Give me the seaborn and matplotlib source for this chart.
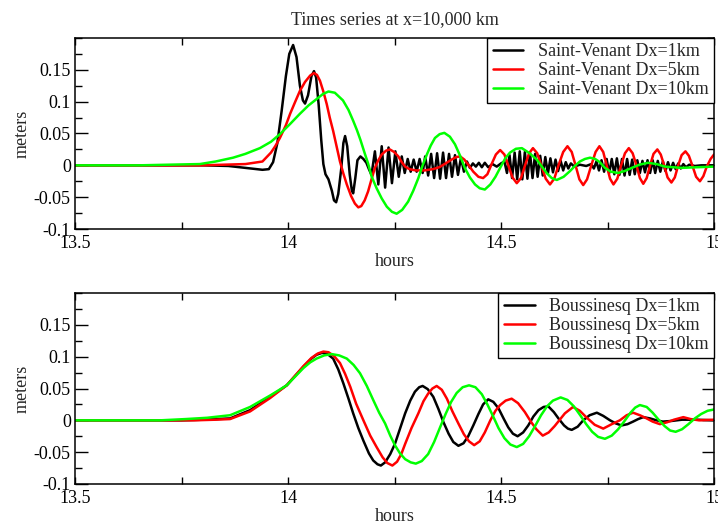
import matplotlib
matplotlib.use("Agg")
import matplotlib.pyplot as plt
import seaborn as sns
import pandas as pd
from matplotlib.ticker import FixedLocator, FixedFormatter, MultipleLocator

# ---------------- data ----------------
title = "Times series at x=10,000 km"
xlabel = "hours"
ylabel = "meters"
xticks = [13.5, 14.0, 14.5, 15.0]
xtick_labels = ["13.5", "14", "14.5", "15"]
yticks = [-0.1, -0.05, 0.0, 0.05, 0.1, 0.15]
ytick_labels = ["-0.1", "-0.05", "0", "0.05", "0.1", "0.15"]

top_labels = ["Saint-Venant Dx=1km", "Saint-Venant Dx=5km", "Saint-Venant Dx=10km"]
bot_labels = ["Boussinesq Dx=1km", "Boussinesq Dx=5km", "Boussinesq Dx=10km"]
colors = ["#000000", "#ff0000", "#00ff00"]

sv1_t = [13.50, 13.80, 13.86, 13.90, 13.94, 13.955, 13.965, 13.975, 13.985, 13.995, 14.003, 14.012,
         14.020, 14.028, 14.035, 14.040, 14.047, 14.055, 14.061, 14.066, 14.072, 14.078, 14.083, 14.088,
         14.095, 14.103, 14.108, 14.113, 14.118, 14.125, 14.130, 14.134, 14.139, 14.145, 14.150, 14.153,
         14.158, 14.163, 14.170, 14.177, 14.184, 14.190, 14.196,
         14.204, 14.212, 14.220, 14.228, 14.236, 14.244, 14.252, 14.260, 14.267, 14.274, 14.281, 14.288,
         14.295, 14.302, 14.309, 14.316, 14.322, 14.329, 14.336, 14.343, 14.350, 14.357, 14.364, 14.371,
         14.378, 14.385, 14.392, 14.399, 14.406, 14.413, 14.420, 14.427, 14.434, 14.441, 14.448, 14.455,
         14.462, 14.470, 14.480, 14.490, 14.500, 14.508, 14.514, 14.520, 14.526, 14.532, 14.538, 14.544,
         14.550, 14.556, 14.562, 14.568, 14.574, 14.580, 14.586, 14.592, 14.598, 14.604, 14.610, 14.616,
         14.622, 14.628, 14.634, 14.640, 14.646, 14.652, 14.658, 14.664, 14.672, 14.685, 14.700, 14.712,
         14.718, 14.724, 14.730, 14.736, 14.742, 14.748, 14.754, 14.760, 14.766, 14.772, 14.778, 14.784,
         14.790, 14.796, 14.802, 14.808, 14.814, 14.820, 14.826, 14.832, 14.838, 14.844, 14.850, 14.856,
         14.862, 14.868, 14.874, 14.880, 14.886, 14.892, 14.898, 14.904, 14.910, 14.916, 14.922, 14.928,
         14.934, 14.942, 14.955, 14.970, 15.000]
sv1_h = [0.0, 0.0, -0.001, -0.004, -0.007, -0.006, 0.005, 0.035, 0.085, 0.140, 0.175, 0.189,
         0.170, 0.125, 0.102, 0.097, 0.110, 0.140, 0.148, 0.138, 0.095, 0.040, 0.002, -0.014,
         -0.022, -0.040, -0.055, -0.058, -0.045, -0.005, 0.035, 0.046, 0.030, -0.015, -0.040, -0.044,
         -0.020, 0.008, 0.014, 0.010, 0.004, -0.006, -0.015,
         0.022, -0.030, 0.030, -0.035, 0.028, -0.028, 0.022, -0.018, 0.014, -0.012, 0.010, -0.010,
         0.009, -0.010, 0.010, -0.012, 0.014, -0.016, 0.018, -0.020, 0.019, -0.021, 0.020, -0.020,
         0.018, -0.018, 0.016, -0.015, 0.012, -0.010, 0.006, -0.004, 0.003, -0.002, 0.004, -0.003,
         0.004, -0.003, 0.002, -0.002, 0.003, 0.006, -0.012, 0.016, -0.020, 0.020, -0.022, 0.022,
         -0.022, 0.021, -0.021, 0.020, -0.020, 0.018, -0.018, 0.015, -0.016, 0.013, -0.013, 0.011,
         -0.011, 0.009, -0.009, 0.007, -0.008, 0.005, -0.005, 0.003, -0.002, 0.001, -0.001, 0.002,
         -0.005, 0.006, -0.008, 0.008, -0.010, 0.010, -0.012, 0.010, -0.014, 0.011, -0.015, 0.010,
         -0.016, 0.010, -0.015, 0.009, -0.014, 0.008, -0.012, 0.007, -0.011, 0.008, -0.012, 0.008,
         -0.012, 0.007, -0.010, 0.006, -0.009, 0.005, -0.008, 0.004, -0.006, 0.003, -0.005, 0.002,
         -0.003, 0.001, -0.001, 0.000, 0.000]

sv5_t = [13.50, 13.70, 13.80, 13.85, 13.90, 13.94, 13.96, 13.97, 13.981, 13.995, 14.005, 14.017,
         14.028, 14.040, 14.052, 14.061, 14.068, 14.075, 14.083, 14.091, 14.098, 14.106, 14.114, 14.122,
         14.130, 14.138, 14.148, 14.157, 14.165, 14.172, 14.180, 14.188, 14.196, 14.204, 14.212, 14.220,
         14.230, 14.239, 14.249, 14.259, 14.267, 14.275, 14.285, 14.300, 14.320, 14.340, 14.355, 14.370,
         14.384, 14.395, 14.404, 14.414, 14.423, 14.435, 14.447, 14.458,
         14.468, 14.478, 14.488, 14.498, 14.508, 14.517, 14.527, 14.537, 14.547, 14.556, 14.566, 14.575,
         14.585, 14.595, 14.605, 14.615, 14.625, 14.635, 14.646, 14.656, 14.666, 14.675, 14.684, 14.693,
         14.702, 14.712, 14.722, 14.731, 14.740, 14.748, 14.756, 14.764, 14.773, 14.782, 14.791, 14.800,
         14.809, 14.818, 14.826, 14.834, 14.842, 14.850, 14.858, 14.867, 14.875, 14.883, 14.891, 14.900,
         14.908, 14.916, 14.924, 14.933, 14.941, 14.949, 14.958, 14.967, 14.975, 14.983, 14.992, 15.000]
sv5_h = [0.0, 0.0, 0.0, 0.001, 0.002, 0.006, 0.020, 0.030, 0.043, 0.063, 0.081, 0.100,
         0.117, 0.131, 0.141, 0.145, 0.142, 0.133, 0.116, 0.096, 0.075, 0.054, 0.030, 0.006,
         -0.013, -0.030, -0.048, -0.060, -0.066, -0.064, -0.055, -0.041, -0.022, -0.004, 0.008, 0.017,
         0.023, 0.025, 0.021, 0.014, 0.005, -0.002, -0.006, -0.008, -0.008, -0.006, -0.003, 0.003,
         0.009, 0.013, 0.014, 0.009, 0.001, -0.010, -0.018, -0.020,
         -0.014, 0.002, 0.017, 0.024, 0.017, 0.000, -0.019, -0.028, -0.020, -0.001, 0.019, 0.027,
         0.019, -0.001, -0.021, -0.030, -0.021, 0.000, 0.021, 0.030, 0.021, 0.000, -0.022, -0.031,
         -0.022, 0.000, 0.021, 0.030, 0.021, 0.000, -0.021, -0.030, -0.021, 0.000, 0.019, 0.027,
         0.019, 0.000, -0.020, -0.029, -0.020, 0.000, 0.018, 0.025, 0.017, 0.000, -0.019, -0.027,
         -0.019, 0.000, 0.016, 0.022, 0.015, 0.000, -0.018, -0.025, -0.017, -0.002, 0.010, 0.017]

sv10_t = [13.50, 13.65, 13.72, 13.793, 13.83, 13.871, 13.90, 13.934, 13.96, 13.981, 14.005, 14.028,
          14.048, 14.067, 14.082, 14.095, 14.110, 14.129, 14.142, 14.153, 14.162, 14.170, 14.181, 14.188,
          14.196, 14.208, 14.220, 14.232, 14.244, 14.255, 14.268, 14.282, 14.294, 14.306, 14.316, 14.326,
          14.335, 14.345, 14.356, 14.367, 14.380, 14.392, 14.404, 14.415, 14.427, 14.439, 14.450, 14.462,
          14.475, 14.487, 14.498, 14.510, 14.521, 14.535, 14.549, 14.567, 14.584, 14.596, 14.607, 14.619,
          14.631, 14.647, 14.662, 14.675, 14.685, 14.697, 14.709, 14.721, 14.732, 14.744, 14.758, 14.775,
          14.790, 14.807, 14.825, 14.845, 14.865, 14.885, 14.924, 14.960, 15.000]
sv10_h = [0.0, 0.0, 0.001, 0.002, 0.006, 0.012, 0.018, 0.027, 0.037, 0.049, 0.065, 0.081,
          0.094, 0.104, 0.112, 0.116, 0.114, 0.102, 0.087, 0.070, 0.055, 0.040, 0.017, 0.003,
          -0.017, -0.036, -0.052, -0.065, -0.073, -0.076, -0.070, -0.057, -0.040, -0.020, 0.000, 0.017,
          0.031, 0.043, 0.049, 0.051, 0.045, 0.033, 0.015, -0.004, -0.019, -0.030, -0.036, -0.038,
          -0.030, -0.018, -0.004, 0.011, 0.020, 0.026, 0.027, 0.019, 0.009, -0.002, -0.012, -0.020,
          -0.023, -0.018, -0.009, 0.000, 0.006, 0.010, 0.012, 0.010, 0.005, -0.004, -0.010, -0.012,
          -0.009, -0.004, 0.001, 0.004, 0.002, -0.002, -0.004, -0.003, -0.002]

bq1_t = [13.50, 13.75, 13.80, 13.864, 13.911, 13.958, 13.997, 14.036, 14.055, 14.067, 14.080, 14.093,
         14.106, 14.118, 14.130, 14.142, 14.153, 14.165, 14.177, 14.190, 14.200, 14.210, 14.218, 14.228,
         14.240, 14.251, 14.263, 14.275, 14.287, 14.298, 14.308, 14.316, 14.328, 14.341, 14.353, 14.365,
         14.377, 14.388, 14.400, 14.412, 14.423, 14.435, 14.447, 14.458, 14.470, 14.482, 14.494, 14.506,
         14.517, 14.528, 14.539, 14.552, 14.564, 14.576, 14.588, 14.600, 14.611, 14.624, 14.636, 14.648,
         14.657, 14.666, 14.680, 14.693, 14.708, 14.725, 14.740, 14.756, 14.770, 14.783, 14.797, 14.810,
         14.822, 14.834, 14.850, 14.865, 14.880, 14.900, 14.925, 14.960, 15.000]
bq1_h = [0.0, 0.0, 0.001, 0.003, 0.016, 0.037, 0.055, 0.084, 0.097, 0.103, 0.106, 0.104,
         0.097, 0.080, 0.058, 0.034, 0.011, -0.012, -0.032, -0.052, -0.063, -0.069, -0.071, -0.066,
         -0.053, -0.037, -0.013, 0.011, 0.031, 0.045, 0.052, 0.054, 0.049, 0.037, 0.018, -0.003,
         -0.021, -0.034, -0.040, -0.036, -0.025, -0.008, 0.010, 0.025, 0.033, 0.029, 0.019, 0.003,
         -0.011, -0.021, -0.025, -0.019, -0.008, 0.006, 0.016, 0.021, 0.022, 0.013, 0.002, -0.008,
         -0.013, -0.015, -0.010, 0.000, 0.008, 0.012, 0.007, 0.000, -0.005, -0.008, -0.006, -0.002,
         0.002, 0.005, 0.003, 0.000, -0.002, -0.001, 0.001, 0.001, 0.000]

bq5_t = [13.50, 13.78, 13.83, 13.864, 13.911, 13.958, 13.997, 14.036, 14.055, 14.070, 14.083, 14.095,
         14.108, 14.122, 14.134, 14.146, 14.160, 14.177, 14.193, 14.208, 14.222, 14.233, 14.245, 14.256,
         14.266, 14.275, 14.290, 14.306, 14.318, 14.329, 14.339, 14.349, 14.361, 14.373, 14.386, 14.400,
         14.413, 14.425, 14.437, 14.450, 14.462, 14.475, 14.487, 14.498, 14.511, 14.525, 14.540, 14.556,
         14.570, 14.583, 14.598, 14.612, 14.626, 14.638, 14.650, 14.669, 14.685, 14.700, 14.720, 14.740,
         14.760, 14.779, 14.795, 14.810, 14.826, 14.842, 14.856, 14.873, 14.890, 14.906, 14.928, 14.945,
         14.965, 15.000]
bq5_h = [0.0, 0.0, 0.001, 0.002, 0.014, 0.035, 0.055, 0.085, 0.098, 0.105, 0.108, 0.107,
         0.101, 0.090, 0.073, 0.053, 0.026, 0.000, -0.024, -0.042, -0.058, -0.067, -0.071, -0.065,
         -0.053, -0.037, -0.012, 0.011, 0.030, 0.042, 0.050, 0.054, 0.048, 0.034, 0.014, -0.005,
         -0.022, -0.033, -0.039, -0.033, -0.019, 0.000, 0.015, 0.024, 0.031, 0.034, 0.027, 0.013,
         -0.002, -0.014, -0.024, -0.019, -0.009, 0.001, 0.011, 0.021, 0.015, 0.005, -0.007, -0.013,
         -0.006, 0.000, 0.008, 0.012, 0.008, 0.003, -0.002, -0.006, -0.003, 0.001, 0.005, 0.002,
         0.000, 0.001]

bq10_t = [13.50, 13.70, 13.76, 13.81, 13.864, 13.911, 13.958, 13.997, 14.036, 14.052, 14.067, 14.085,
          14.103, 14.120, 14.138, 14.154, 14.169, 14.185, 14.200, 14.214, 14.228, 14.240, 14.251, 14.263,
          14.275, 14.288, 14.300, 14.314, 14.329, 14.343, 14.357, 14.370, 14.383, 14.396, 14.410, 14.425,
          14.440, 14.455, 14.468, 14.481, 14.494, 14.508, 14.522, 14.537, 14.552, 14.566, 14.580, 14.594,
          14.608, 14.622, 14.640, 14.656, 14.671, 14.686, 14.700, 14.714, 14.728, 14.744, 14.760, 14.775,
          14.790, 14.804, 14.815, 14.826, 14.842, 14.856, 14.870, 14.884, 14.897, 14.910, 14.925, 14.940,
          14.955, 14.970, 14.985, 15.000]
bq10_h = [0.0, 0.0, 0.002, 0.004, 0.008, 0.021, 0.039, 0.055, 0.082, 0.091, 0.097, 0.102,
          0.104, 0.102, 0.097, 0.087, 0.074, 0.054, 0.032, 0.012, -0.005, -0.024, -0.039, -0.052,
          -0.061, -0.066, -0.068, -0.064, -0.053, -0.034, -0.011, 0.010, 0.029, 0.043, 0.052, 0.055,
          0.052, 0.041, 0.025, 0.007, -0.012, -0.028, -0.038, -0.042, -0.037, -0.025, -0.009, 0.008,
          0.022, 0.031, 0.036, 0.032, 0.022, 0.008, -0.006, -0.018, -0.026, -0.029, -0.024, -0.014,
          -0.001, 0.012, 0.020, 0.024, 0.021, 0.012, 0.001, -0.009, -0.016, -0.018, -0.014, -0.006,
          0.003, 0.010, 0.015, 0.017]

# ---------------- style ----------------
sns.set_theme(style="ticks")
plt.rcParams["font.family"] = ["Liberation Serif", "DejaVu Serif"]
plt.rcParams["axes.linewidth"] = 1.1
FS = 13

fig = plt.figure(figsize=(7.18, 5.24), dpi=100)
fig.patch.set_facecolor("white")
ax_top = fig.add_axes([75 / 718, 1 - 229 / 524, 639 / 718, 191 / 524])
ax_bot = fig.add_axes([75 / 718, 1 - 484 / 524, 639 / 718, 191 / 524])


def make_df(ts, hs, labels):
    frames = []
    for t, h, lab in zip(ts, hs, labels):
        frames.append(pd.DataFrame({"t": t, "h": h, "series": lab}))
    return pd.concat(frames, ignore_index=True)


panels = [
    (ax_top, make_df([sv1_t, sv5_t, sv10_t], [sv1_h, sv5_h, sv10_h], top_labels), top_labels),
    (ax_bot, make_df([bq1_t, bq5_t, bq10_t], [bq1_h, bq5_h, bq10_h], bot_labels), bot_labels),
]

for ax, df, labels in panels:
    sns.lineplot(data=df, x="t", y="h", hue="series", hue_order=labels,
                 palette=dict(zip(labels, colors)), sort=False, estimator=None,
                 linewidth=1.8, ax=ax)
    ax.set_xlim(13.5, 15.0)
    ax.set_ylim(-0.1, 0.2)
    ax.xaxis.set_major_locator(FixedLocator(xticks))
    ax.xaxis.set_major_formatter(FixedFormatter(xtick_labels))
    ax.yaxis.set_major_locator(FixedLocator(yticks))
    ax.yaxis.set_major_formatter(FixedFormatter(ytick_labels))
    ax.xaxis.set_minor_locator(MultipleLocator(0.25))
    ax.yaxis.set_minor_locator(MultipleLocator(0.025))
    ax.tick_params(axis="both", which="both", direction="in", top=True, right=True,
                   colors="black", labelsize=FS, width=1.0)
    ax.tick_params(axis="y", which="major", length=9, pad=3)
    ax.tick_params(axis="y", which="minor", length=5)
    ax.tick_params(axis="x", which="major", length=5, pad=4)
    ax.tick_params(axis="x", which="minor", length=5)
    for sp in ax.spines.values():
        sp.set_visible(True)
        sp.set_color("black")
        sp.set_linewidth(1.1)
    ax.set_xlabel(xlabel, fontsize=FS, labelpad=1)
    ax.set_ylabel(ylabel, fontsize=FS, labelpad=2)
    ax.set_facecolor("white")
    ax.grid(False)
    leg = ax.legend(loc="upper right", bbox_to_anchor=(1.0, 1.0), borderaxespad=0.0,
                    fontsize=FS, frameon=True, fancybox=False, handlelength=1.7,
                    handletextpad=0.8, labelspacing=0.1, borderpad=0.3)
    leg.get_frame().set_edgecolor("black")
    leg.get_frame().set_linewidth(1.0)
    leg.get_frame().set_alpha(1.0)
    for line in leg.get_lines():
        line.set_linewidth(1.8)

ax_top.set_title(title, fontsize=FS, pad=10)

fig.savefig("out.png", dpi=100, facecolor="white")
